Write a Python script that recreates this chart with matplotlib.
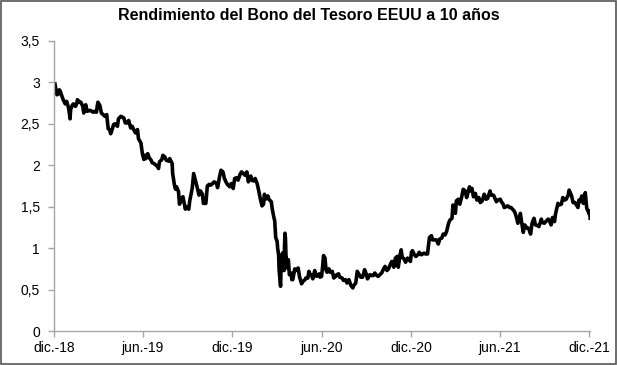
import matplotlib
matplotlib.use("Agg")
import matplotlib.pyplot as plt
import pandas as pd
from matplotlib.patches import Rectangle

plt.rcParams['font.family'] = ['Liberation Sans', 'DejaVu Sans']

# 10-year US Treasury yield (%)
dates = [
    "2018-12-03", "2018-12-05", "2018-12-07", "2018-12-10", "2018-12-12", "2018-12-14", "2018-12-18", "2018-12-20", "2018-12-24", "2018-12-27", "2018-12-31",
    "2019-01-03", "2019-01-04", "2019-01-08", "2019-01-10", "2019-01-14", "2019-01-17", "2019-01-18", "2019-01-23", "2019-01-25", "2019-01-29", "2019-01-31",
    "2019-02-04", "2019-02-07", "2019-02-11", "2019-02-14", "2019-02-19", "2019-02-22", "2019-02-26", "2019-02-28",
    "2019-03-01", "2019-03-05", "2019-03-08", "2019-03-12", "2019-03-15", "2019-03-19", "2019-03-22", "2019-03-25", "2019-03-27", "2019-03-29",
    "2019-04-02", "2019-04-05", "2019-04-10", "2019-04-12", "2019-04-17", "2019-04-23", "2019-04-26", "2019-04-30",
    "2019-05-03", "2019-05-07", "2019-05-10", "2019-05-14", "2019-05-17", "2019-05-21", "2019-05-23", "2019-05-28", "2019-05-31",
    "2019-06-03", "2019-06-05", "2019-06-07", "2019-06-11", "2019-06-14", "2019-06-18", "2019-06-20", "2019-06-24", "2019-06-28",
    "2019-07-02", "2019-07-03", "2019-07-05", "2019-07-10", "2019-07-12", "2019-07-16", "2019-07-19", "2019-07-24", "2019-07-26", "2019-07-31",
    "2019-08-01", "2019-08-05", "2019-08-07", "2019-08-09", "2019-08-13", "2019-08-15", "2019-08-19", "2019-08-22", "2019-08-27", "2019-08-29",
    "2019-09-03", "2019-09-05", "2019-09-10", "2019-09-13", "2019-09-17", "2019-09-20", "2019-09-24", "2019-09-27",
    "2019-10-01", "2019-10-03", "2019-10-08", "2019-10-11", "2019-10-15", "2019-10-18", "2019-10-22", "2019-10-25", "2019-10-30",
    "2019-11-01", "2019-11-05", "2019-11-08", "2019-11-12", "2019-11-15", "2019-11-19", "2019-11-21", "2019-11-26", "2019-11-29",
    "2019-12-03", "2019-12-06", "2019-12-10", "2019-12-13", "2019-12-17", "2019-12-20", "2019-12-24", "2019-12-27", "2019-12-31",
    "2020-01-03", "2020-01-08", "2020-01-10", "2020-01-14", "2020-01-17", "2020-01-21", "2020-01-24", "2020-01-27", "2020-01-31",
    "2020-02-03", "2020-02-05", "2020-02-07", "2020-02-12", "2020-02-14", "2020-02-19", "2020-02-21", "2020-02-24", "2020-02-26", "2020-02-28",
    "2020-03-02", "2020-03-03", "2020-03-05", "2020-03-06", "2020-03-09", "2020-03-10", "2020-03-11", "2020-03-12", "2020-03-13", "2020-03-16",
    "2020-03-17", "2020-03-18", "2020-03-19", "2020-03-20", "2020-03-23", "2020-03-24", "2020-03-25", "2020-03-27", "2020-03-31",
    "2020-04-01", "2020-04-03", "2020-04-07", "2020-04-09", "2020-04-14", "2020-04-17", "2020-04-21", "2020-04-24", "2020-04-28", "2020-04-30",
    "2020-05-04", "2020-05-06", "2020-05-08", "2020-05-12", "2020-05-14", "2020-05-18", "2020-05-20", "2020-05-22", "2020-05-27", "2020-05-29",
    "2020-06-01", "2020-06-03", "2020-06-05", "2020-06-08", "2020-06-10", "2020-06-12", "2020-06-16", "2020-06-18", "2020-06-23", "2020-06-26", "2020-06-30",
    "2020-07-02", "2020-07-06", "2020-07-08", "2020-07-13", "2020-07-16", "2020-07-20", "2020-07-23", "2020-07-27", "2020-07-31",
    "2020-08-04", "2020-08-06", "2020-08-10", "2020-08-13", "2020-08-17", "2020-08-20", "2020-08-24", "2020-08-26", "2020-08-28",
    "2020-09-01", "2020-09-03", "2020-09-08", "2020-09-11", "2020-09-15", "2020-09-18", "2020-09-22", "2020-09-25", "2020-09-30",
    "2020-10-02", "2020-10-06", "2020-10-09", "2020-10-13", "2020-10-16", "2020-10-21", "2020-10-23", "2020-10-27", "2020-10-30",
    "2020-11-03", "2020-11-05", "2020-11-09", "2020-11-11", "2020-11-13", "2020-11-17", "2020-11-20", "2020-11-24", "2020-11-30",
    "2020-12-02", "2020-12-04", "2020-12-08", "2020-12-11", "2020-12-15", "2020-12-18", "2020-12-22", "2020-12-28", "2020-12-31",
    "2021-01-04", "2021-01-06", "2021-01-08", "2021-01-12", "2021-01-14", "2021-01-19", "2021-01-22", "2021-01-26", "2021-01-29",
    "2021-02-02", "2021-02-05", "2021-02-09", "2021-02-12", "2021-02-16", "2021-02-19", "2021-02-23", "2021-02-25", "2021-02-26",
    "2021-03-02", "2021-03-04", "2021-03-08", "2021-03-11", "2021-03-15", "2021-03-18", "2021-03-22", "2021-03-25", "2021-03-31",
    "2021-04-01", "2021-04-05", "2021-04-08", "2021-04-12", "2021-04-15", "2021-04-19", "2021-04-22", "2021-04-26", "2021-04-30",
    "2021-05-04", "2021-05-07", "2021-05-12", "2021-05-14", "2021-05-18", "2021-05-20", "2021-05-25", "2021-05-28",
    "2021-06-02", "2021-06-04", "2021-06-08", "2021-06-10", "2021-06-14", "2021-06-17", "2021-06-21", "2021-06-24", "2021-06-30",
    "2021-07-02", "2021-07-06", "2021-07-08", "2021-07-13", "2021-07-16", "2021-07-19", "2021-07-22", "2021-07-27", "2021-07-30",
    "2021-08-03", "2021-08-06", "2021-08-10", "2021-08-13", "2021-08-18", "2021-08-20", "2021-08-25", "2021-08-27", "2021-08-31",
    "2021-09-03", "2021-09-08", "2021-09-10", "2021-09-14", "2021-09-17", "2021-09-21", "2021-09-23", "2021-09-28", "2021-09-30",
    "2021-10-05", "2021-10-08", "2021-10-12", "2021-10-15", "2021-10-19", "2021-10-21", "2021-10-26", "2021-10-28", "2021-10-29",
    "2021-11-02", "2021-11-04", "2021-11-08", "2021-11-10", "2021-11-12", "2021-11-16", "2021-11-19", "2021-11-23", "2021-11-26", "2021-11-30",
    "2021-12-01", "2021-12-02", "2021-12-03",
]
yields = [
    2.98, 2.91, 2.85, 2.86, 2.91, 2.89, 2.82, 2.79, 2.74, 2.77, 2.69,
    2.56, 2.67, 2.73, 2.74, 2.71, 2.75, 2.79, 2.76, 2.76, 2.71, 2.63,
    2.73, 2.65, 2.66, 2.66, 2.64, 2.65, 2.64, 2.73,
    2.76, 2.72, 2.63, 2.61, 2.59, 2.61, 2.44, 2.43, 2.38, 2.41,
    2.49, 2.50, 2.47, 2.56, 2.59, 2.57, 2.51, 2.51,
    2.54, 2.45, 2.47, 2.42, 2.39, 2.43, 2.32, 2.27, 2.14,
    2.07, 2.12, 2.08, 2.14, 2.09, 2.06, 2.03, 2.02, 2.00,
    1.98, 1.96, 2.04, 2.07, 2.12, 2.10, 2.06, 2.05, 2.08, 2.02,
    1.90, 1.75, 1.71, 1.74, 1.68, 1.53, 1.60, 1.62, 1.47, 1.50,
    1.47, 1.57, 1.72, 1.90, 1.81, 1.74, 1.64, 1.69,
    1.65, 1.54, 1.54, 1.75, 1.77, 1.76, 1.78, 1.80, 1.78,
    1.73, 1.86, 1.94, 1.92, 1.84, 1.79, 1.77, 1.74, 1.78,
    1.72, 1.84, 1.85, 1.82, 1.89, 1.92, 1.90, 1.88, 1.92,
    1.80, 1.87, 1.82, 1.81, 1.84, 1.78, 1.70, 1.61, 1.51,
    1.53, 1.65, 1.59, 1.63, 1.59, 1.56, 1.47, 1.38, 1.33, 1.13,
    1.08, 1.00, 0.92, 0.74, 0.54, 0.76, 0.82, 0.88, 0.94, 0.73,
    1.00, 1.18, 1.12, 0.92, 0.76, 0.84, 0.86, 0.68, 0.70,
    0.62, 0.62, 0.75, 0.73, 0.76, 0.65, 0.57, 0.60, 0.62, 0.64,
    0.64, 0.72, 0.69, 0.67, 0.63, 0.73, 0.68, 0.66, 0.69, 0.65,
    0.66, 0.77, 0.91, 0.88, 0.74, 0.71, 0.75, 0.71, 0.72, 0.64, 0.66,
    0.68, 0.69, 0.65, 0.64, 0.61, 0.62, 0.58, 0.62, 0.55,
    0.52, 0.55, 0.58, 0.72, 0.68, 0.65, 0.65, 0.69, 0.74,
    0.68, 0.63, 0.68, 0.67, 0.67, 0.70, 0.67, 0.66, 0.69,
    0.70, 0.75, 0.78, 0.73, 0.75, 0.82, 0.84, 0.77, 0.88,
    0.90, 0.77, 0.93, 0.98, 0.89, 0.87, 0.83, 0.88, 0.84,
    0.95, 0.97, 0.92, 0.90, 0.92, 0.95, 0.92, 0.94, 0.93,
    0.93, 1.04, 1.13, 1.15, 1.10, 1.10, 1.10, 1.05, 1.11,
    1.12, 1.17, 1.16, 1.20, 1.30, 1.34, 1.36, 1.52, 1.44,
    1.42, 1.57, 1.59, 1.53, 1.62, 1.71, 1.69, 1.61, 1.74,
    1.69, 1.72, 1.62, 1.66, 1.58, 1.61, 1.55, 1.57, 1.65,
    1.59, 1.60, 1.69, 1.64, 1.64, 1.63, 1.56, 1.58,
    1.59, 1.56, 1.53, 1.49, 1.50, 1.51, 1.49, 1.49, 1.45,
    1.43, 1.35, 1.30, 1.42, 1.30, 1.19, 1.28, 1.24, 1.24,
    1.17, 1.30, 1.36, 1.28, 1.27, 1.26, 1.35, 1.31, 1.30,
    1.32, 1.35, 1.34, 1.28, 1.37, 1.32, 1.41, 1.54, 1.52,
    1.53, 1.61, 1.58, 1.59, 1.64, 1.70, 1.63, 1.58, 1.55,
    1.55, 1.53, 1.49, 1.58, 1.56, 1.63, 1.54, 1.67, 1.48, 1.43,
    1.41, 1.45, 1.36,
]

tick_dates = ["2018-12-01", "2019-06-01", "2019-12-01", "2020-06-01", "2020-12-01", "2021-06-01", "2021-12-01"]
tick_labels = ["dic.-18", "jun.-19", "dic.-19", "jun.-20", "dic.-20", "jun.-21", "dic.-21"]
y_ticks = [0, 0.5, 1, 1.5, 2, 2.5, 3, 3.5]
y_labels = ["0", "0,5", "1", "1,5", "2", "2,5", "3", "3,5"]

x = pd.to_datetime(dates)

fig = plt.figure(figsize=(6.17, 3.65), dpi=100)
ax = fig.add_axes([0.0875, 0.093, 0.869, 0.795])

ax.plot(x, yields, color="black", lw=2.6, solid_joinstyle="round")

ax.set_xlim(pd.Timestamp("2018-12-01"), pd.Timestamp("2021-12-03"))
ax.set_ylim(0, 3.5)
ax.set_xticks(pd.to_datetime(tick_dates))
ax.set_xticklabels(tick_labels)
ax.set_yticks(y_ticks)
ax.set_yticklabels(y_labels)

for s in ["top", "right"]:
    ax.spines[s].set_visible(False)
for s in ["left", "bottom"]:
    ax.spines[s].set_color("#a6a6a6")
    ax.spines[s].set_linewidth(1)
ax.tick_params(colors="#a6a6a6", labelcolor="black", labelsize=10, length=4, width=1)
ax.tick_params(axis="y", pad=6)

fig.suptitle("Rendimiento del Bono del Tesoro EEUU a 10 años", fontsize=11.5, fontweight="bold", y=0.978)

# grey frame around the chart
fig.patches.append(Rectangle((0.001, 0.002), 0.997, 0.996, transform=fig.transFigure,
                             fill=False, edgecolor="#555555", lw=1.2))

fig.savefig("out.png", dpi=100)
